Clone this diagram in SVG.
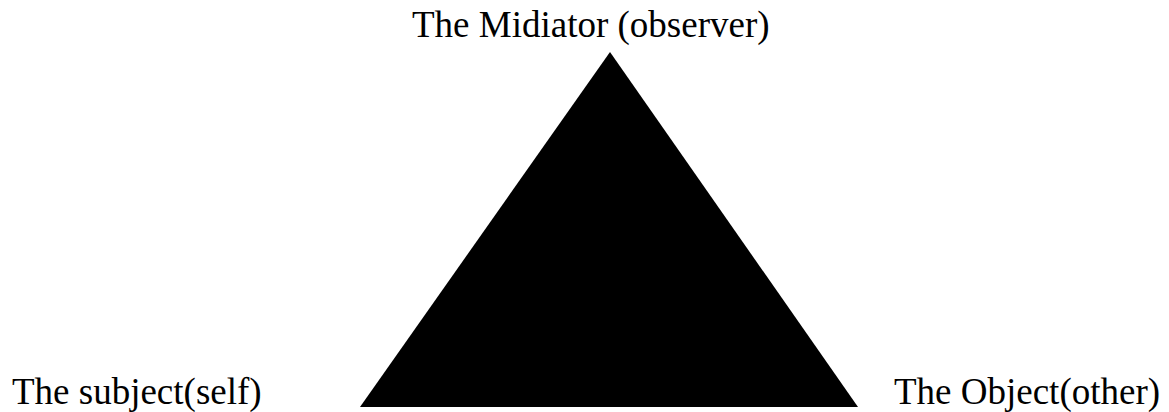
<svg xmlns="http://www.w3.org/2000/svg" width="1169" height="412" viewBox="0 0 1169 412">
<style>
.lbl{font-family:"Liberation Serif","Times New Roman",serif;font-size:37px;fill:#000}
</style>
<rect width="1169" height="412" fill="#fff"/>
<g id="triangle"><polygon points="610,52 360,407 858,407" fill="#000"/></g>
<g id="connectors"/>
<g id="node-mediator"><text class="lbl" x="412" y="37">The Midiator (observer)</text></g>
<g id="node-subject"><text class="lbl" x="12" y="404">The subject(self)</text></g>
<g id="node-object"><text class="lbl" x="894" y="404">The Object(other)</text></g>
</svg>
